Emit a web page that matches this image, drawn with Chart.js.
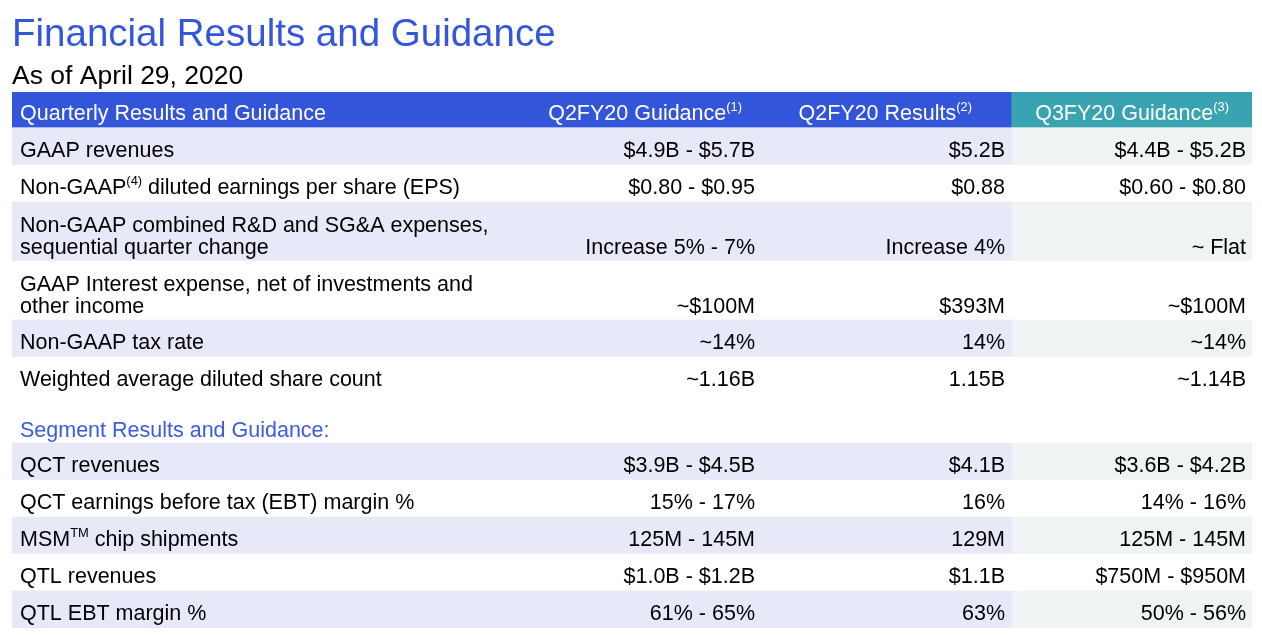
<!DOCTYPE html>
<html><head><meta charset="utf-8">
<script src="https://cdn.jsdelivr.net/npm/chart.js@4.4.1/dist/chart.umd.min.js"></script>
<style>html,body{margin:0;padding:0;background:#fff;overflow:hidden}canvas{display:block}</style>
</head><body>
<canvas id="c" width="1262" height="636"></canvas>
<script>
// ---------- content (text) ----------
const titleText = 'Financial Results and Guidance';
const subtitleText = 'As of April 29, 2020';
// {...} marks superscript text, \n marks a line break
const columnHeaders = ['Quarterly Results and Guidance', 'Q2FY20 Guidance{(1)}', 'Q2FY20 Results{(2)}', 'Q3FY20 Guidance{(3)}'];

const quarterlyMetrics = [
  'GAAP revenues',
  'Non-GAAP{(4)} diluted earnings per share (EPS)',
  'Non-GAAP combined R&D and SG&A expenses,\nsequential quarter change',
  'GAAP Interest expense, net of investments and\nother income',
  'Non-GAAP tax rate',
  'Weighted average diluted share count'
];
const q2GuidanceQuarterly = ['$4.9B - $5.7B', '$0.80 - $0.95', 'Increase 5% - 7%', '~$100M', '~14%', '~1.16B'];
const q2ResultsQuarterly  = ['$5.2B', '$0.88', 'Increase 4%', '$393M', '14%', '1.15B'];
const q3GuidanceQuarterly = ['$4.4B - $5.2B', '$0.60 - $0.80', '~ Flat', '~$100M', '~14%', '~1.14B'];

const segmentHeading = 'Segment Results and Guidance:';
const segmentMetrics = [
  'QCT revenues',
  'QCT earnings before tax (EBT) margin %',
  'MSM{TM} chip shipments',
  'QTL revenues',
  'QTL EBT margin %'
];
const q2GuidanceSegment = ['$3.9B - $4.5B', '15% - 17%', '125M - 145M', '$1.0B - $1.2B', '61% - 65%'];
const q2ResultsSegment  = ['$4.1B', '16%', '129M', '$1.1B', '63%'];
const q3GuidanceSegment = ['$3.6B - $4.2B', '14% - 16%', '125M - 145M', '$750M - $950M', '50% - 56%'];

// ---------- layout & style ----------
const FONT = "'Liberation Sans', Arial, Helvetica, sans-serif";
const L = {
  canvasW: 1262, canvasH: 636,
  padLeft: 12, padRight: 10, tableTop: 92,
  tableW: 1240,          // x-axis units (1 unit = 1 px of table width)
  splitX: 999,           // start of the Q3 guidance column group
  headerH: 35, headerGap: 1,
  rowPad: 15, lineH: 22, sectionH: 49,
  labelX: 8,
  valueRight: [743, 993, 1234],
  headerRight: [730, 960, 1217],
  bodySize: 21.5,
  baseOff: 10
};
const C = {
  headerA: '#3355d9', headerB: '#39a3b2',
  shadeA: '#e7e8f8', shadeB: '#eff3f3', plain: '#ffffff',
  text: '#000000', headerText: '#ffffff', heading: '#3b5be0', title: '#3356dc'
};

// ---------- build table rows ----------
const rows = [];
rows.push({kind: 'header', h: L.headerH});
rows.push({kind: 'gap', h: L.headerGap});
function addSection(labels, a, b, c) {
  labels.forEach((lab, i) => {
    const lines = lab.split('\n').length;
    rows.push({kind: 'data', label: lab, values: [a[i], b[i], c[i]], shaded: i % 2 === 0, lines,
               h: L.rowPad + L.lineH * lines});
  });
}
addSection(quarterlyMetrics, q2GuidanceQuarterly, q2ResultsQuarterly, q3GuidanceQuarterly);
rows.push({kind: 'section', text: segmentHeading, h: L.sectionH});
addSection(segmentMetrics, q2GuidanceSegment, q2ResultsSegment, q3GuidanceSegment);
let acc = 0;
rows.forEach(r => { r.top = acc; acc += r.h; r.bottom = acc; });
const TOTAL = acc;

const bandRows = rows.filter(r => r.kind === 'header' || r.kind === 'data');
function bandColor(r, group) {
  if (r.kind === 'header') return group === 0 ? C.headerA : C.headerB;
  return r.shaded ? (group === 0 ? C.shadeA : C.shadeB) : C.plain;
}
const groups = [[0, L.splitX], [L.splitX, L.tableW]];
const datasets = groups.map(([x0, x1], g) => ({
  label: g === 0 ? 'Q2FY20 columns' : 'Q3FY20 column',
  data: bandRows.map(r => ({x: (x0 + x1) / 2, y: [r.top, r.bottom]})),
  backgroundColor: bandRows.map(r => bandColor(r, g)),
  borderWidth: 0,
  grouped: false,
  barThickness: (ctx) => {
    const s = ctx.chart.scales && ctx.chart.scales.x;
    return (s && s.width) ? Math.abs(s.getPixelForValue(x1) - s.getPixelForValue(x0)) : (x1 - x0);
  }
}));

// ---------- rich text (superscripts) ----------
function segments(str) {
  return str.split(/(\{[^}]*\})/).filter(s => s.length).map(s =>
    s[0] === '{' ? {t: s.slice(1, -1), sup: true} : {t: s, sup: false});
}
function drawRich(ctx, str, x, y, align, size, color) {
  const segs = segments(str);
  const supSize = size * 0.6;
  let total = 0;
  segs.forEach(s => { ctx.font = (s.sup ? supSize : size) + 'px ' + FONT; s.w = ctx.measureText(s.t).width; total += s.w; });
  let cx = align === 'right' ? x - total : x;
  ctx.fillStyle = color;
  ctx.textAlign = 'left';
  ctx.textBaseline = 'alphabetic';
  segs.forEach(s => {
    ctx.font = (s.sup ? supSize : size) + 'px ' + FONT;
    ctx.fillText(s.t, cx, s.sup ? y - size * 0.38 : y);
    cx += s.w;
  });
}

const tableText = {
  id: 'tableText',
  afterDatasetsDraw(chart) {
    const ctx = chart.ctx, xs = chart.scales.x, ys = chart.scales.y;
    const S = L.bodySize;
    ctx.save();
    rows.forEach(r => {
      const yc = (ys.getPixelForValue(r.top) + ys.getPixelForValue(r.bottom)) / 2;
      if (r.kind === 'header') {
        const by = yc + 10;
        drawRich(ctx, columnHeaders[0], xs.getPixelForValue(L.labelX), by, 'left', S, C.headerText);
        for (let i = 1; i < 4; i++) drawRich(ctx, columnHeaders[i], xs.getPixelForValue(L.headerRight[i - 1]), by, 'right', S, C.headerText);
      } else if (r.kind === 'section') {
        drawRich(ctx, r.text, xs.getPixelForValue(L.labelX), ys.getPixelForValue(r.bottom) - 6, 'left', S, C.heading);
      } else if (r.kind === 'data') {
        const lines = r.label.split('\n');
        const n = lines.length;
        lines.forEach((ln, i) => {
          const by = yc + (i - (n - 1) / 2) * L.lineH + L.baseOff + (n - 1) * 1;
          drawRich(ctx, ln, xs.getPixelForValue(L.labelX), by, 'left', S, C.text);
        });
        const vy = yc + ((n - 1) / 2) * L.lineH + L.baseOff + (n - 1) * 1;
        r.values.forEach((v, j) => drawRich(ctx, v, xs.getPixelForValue(L.valueRight[j]), vy, 'right', S, C.text));
      }
    });
    ctx.restore();
  }
};

new Chart(document.getElementById('c'), {
  type: 'bar',
  data: {datasets},
  plugins: [tableText],
  options: {
    responsive: false, animation: false, devicePixelRatio: 1,
    events: [],
    layout: {padding: {left: L.padLeft, right: L.padRight, top: 0, bottom: L.canvasH - L.tableTop - TOTAL}},
    plugins: {
      legend: {display: false},
      tooltip: {enabled: false},
      title: {display: true, text: titleText, align: 'start', color: C.title,
              font: {family: FONT, size: 38.5, weight: 'normal', lineHeight: 1.2}, padding: {top: 12, bottom: 0}},
      subtitle: {display: true, text: subtitleText, align: 'start', color: C.text,
              font: {family: FONT, size: 26.5, weight: 'normal', lineHeight: 1.15}, padding: {top: 3.4, bottom: 0}}
    },
    scales: {
      x: {type: 'linear', min: 0, max: L.tableW, display: false, offset: false},
      y: {type: 'linear', min: 0, max: TOTAL, reverse: true, display: false}
    }
  }
});
</script>
</body></html>
